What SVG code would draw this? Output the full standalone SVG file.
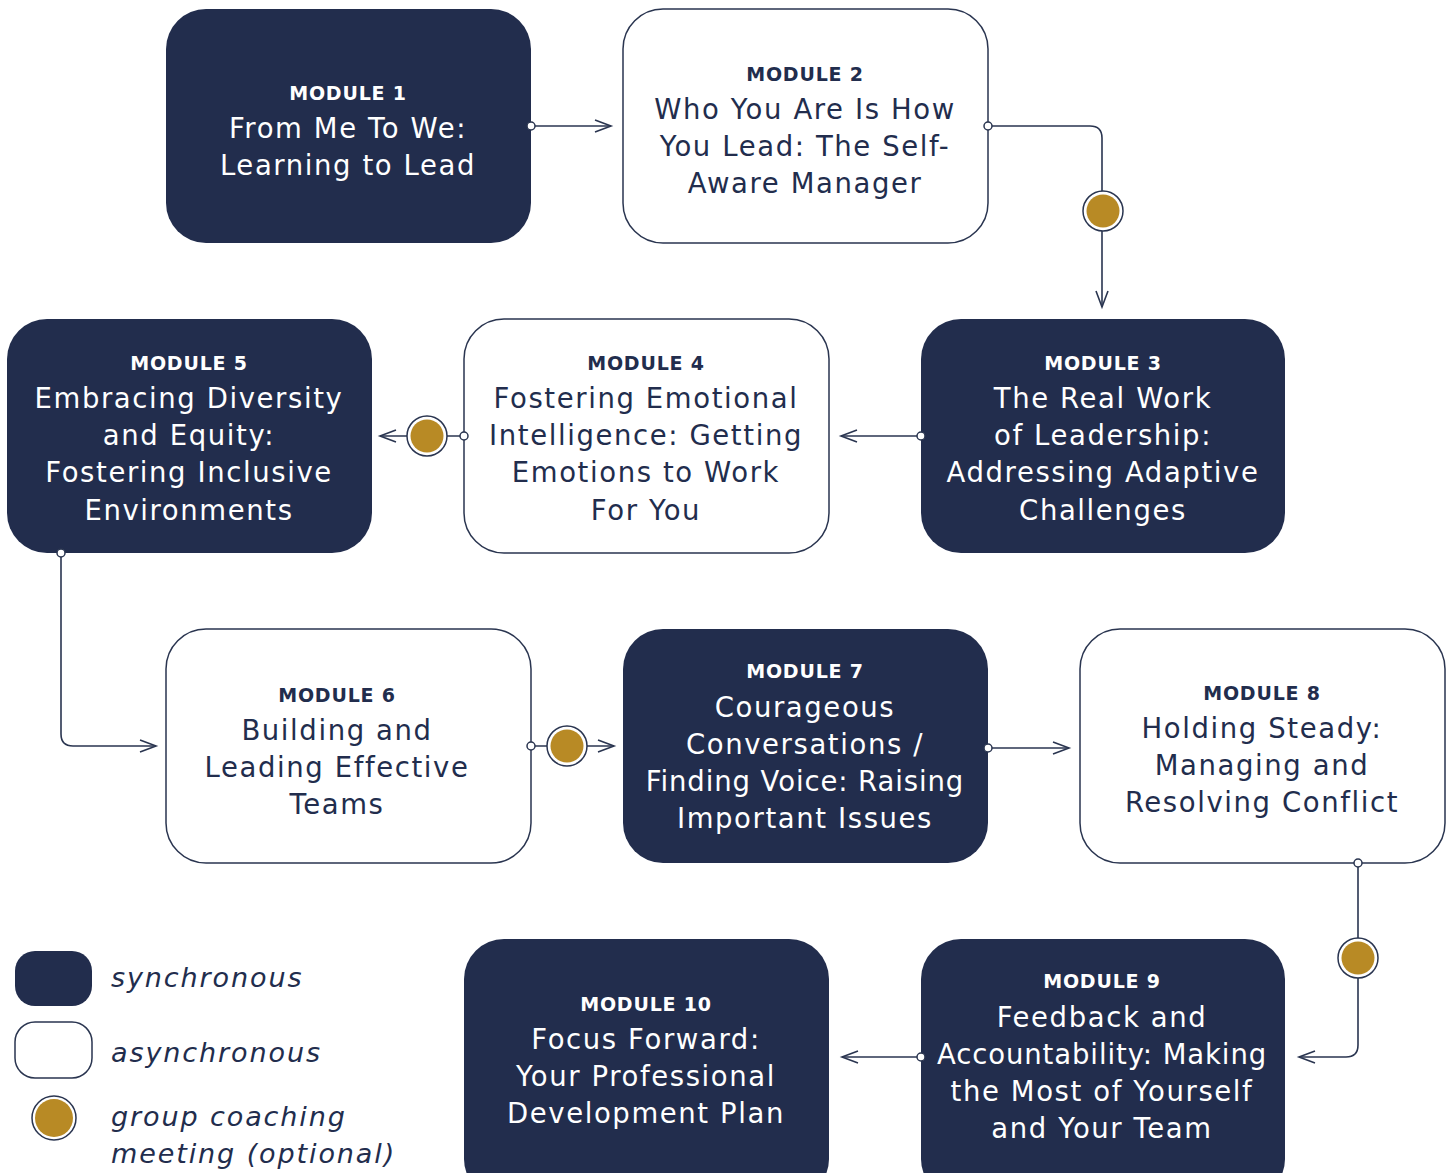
<svg xmlns="http://www.w3.org/2000/svg" width="1454" height="1173" viewBox="0 0 1454 1173">
<style>
.dark{fill:#222d4d;}
.light{fill:#ffffff;stroke:#2a3550;stroke-width:1.5;}
.mod{font-family:"DejaVu Sans","Liberation Sans",sans-serif;font-weight:bold;font-size:19px;letter-spacing:0.8px;text-anchor:middle;}
.ttl{font-family:"DejaVu Sans","Liberation Sans",sans-serif;font-size:27.5px;letter-spacing:1.6px;text-anchor:middle;}
.tight{letter-spacing:0.9px;}
.w{fill:#ffffff;}
.n{fill:#222d4d;}
.conn{fill:none;stroke:#2a3550;stroke-width:1.6;}
.dot{fill:#ffffff;stroke:#2a3550;stroke-width:1.5;}
.ring{fill:#ffffff;stroke:#2a3550;stroke-width:1.5;}
.gold{fill:#b88a25;}
.leg{font-family:"DejaVu Sans","Liberation Sans",sans-serif;font-style:italic;font-size:27px;letter-spacing:1.9px;fill:#222d4d;}
</style>
<defs>
<marker id="arr" markerUnits="userSpaceOnUse" markerWidth="20" markerHeight="16" refX="17" refY="7" orient="auto" viewBox="0 0 20 16">
<path d="M1,1 L17,7 L1,13" fill="none" stroke="#2a3550" stroke-width="1.6"/>
</marker>
</defs>
<rect width="1454" height="1173" fill="#ffffff"/>

<g id="module1">
<rect class="dark" x="166" y="9" width="365" height="234" rx="40"/>
<text class="mod w" x="348" y="100">MODULE 1</text>
<text class="ttl w" x="348" y="138">From Me To We:</text>
<text class="ttl w" x="348" y="175">Learning to Lead</text>
</g>
<g id="module2">
<rect class="light" x="623" y="9" width="365" height="234" rx="40"/>
<text class="mod n" x="805" y="81">MODULE 2</text>
<text class="ttl n" x="805" y="119">Who You Are Is How</text>
<text class="ttl n" x="805" y="156">You Lead: The Self-</text>
<text class="ttl n" x="805" y="193">Aware Manager</text>
</g>
<g id="module3">
<rect class="dark" x="921" y="319" width="364" height="234" rx="40"/>
<text class="mod w" x="1103" y="370">MODULE 3</text>
<text class="ttl w" x="1103" y="408">The Real Work</text>
<text class="ttl w" x="1103" y="445">of Leadership:</text>
<text class="ttl w" x="1103" y="482">Addressing Adaptive</text>
<text class="ttl w" x="1103" y="520">Challenges</text>
</g>
<g id="module4">
<rect class="light" x="464" y="319" width="365" height="234" rx="40"/>
<text class="mod n" x="646" y="370">MODULE 4</text>
<text class="ttl n" x="646" y="408">Fostering Emotional</text>
<text class="ttl n" x="646" y="445">Intelligence: Getting</text>
<text class="ttl n" x="646" y="482">Emotions to Work</text>
<text class="ttl n" x="646" y="520">For You</text>
</g>
<g id="module5">
<rect class="dark" x="7" y="319" width="365" height="234" rx="40"/>
<text class="mod w" x="189" y="370">MODULE 5</text>
<text class="ttl w" x="189" y="408">Embracing Diversity</text>
<text class="ttl w" x="189" y="445">and Equity:</text>
<text class="ttl w" x="189" y="482">Fostering Inclusive</text>
<text class="ttl w" x="189" y="520">Environments</text>
</g>
<g id="module6">
<rect class="light" x="166" y="629" width="365" height="234" rx="40"/>
<text class="mod n" x="337" y="702">MODULE 6</text>
<text class="ttl n" x="337" y="740">Building and</text>
<text class="ttl n" x="337" y="777">Leading Effective</text>
<text class="ttl n" x="337" y="814">Teams</text>
</g>
<g id="module7">
<rect class="dark" x="623" y="629" width="365" height="234" rx="40"/>
<text class="mod w" x="805" y="678">MODULE 7</text>
<text class="ttl w" x="805" y="717">Courageous</text>
<text class="ttl w" x="805" y="754">Conversations /</text>
<text class="ttl w tight" x="805" y="791">Finding Voice: Raising</text>
<text class="ttl w" x="805" y="828">Important Issues</text>
</g>
<g id="module8">
<rect class="light" x="1080" y="629" width="365" height="234" rx="40"/>
<text class="mod n" x="1262" y="700">MODULE 8</text>
<text class="ttl n" x="1262" y="738">Holding Steady:</text>
<text class="ttl n" x="1262" y="775">Managing and</text>
<text class="ttl n" x="1262" y="812">Resolving Conflict</text>
</g>
<g id="module9">
<rect class="dark" x="921" y="939" width="364" height="260" rx="40"/>
<text class="mod w" x="1102" y="988">MODULE 9</text>
<text class="ttl w" x="1102" y="1027">Feedback and</text>
<text class="ttl w tight" x="1102" y="1064">Accountability: Making</text>
<text class="ttl w" x="1102" y="1101">the Most of Yourself</text>
<text class="ttl w" x="1102" y="1138">and Your Team</text>
</g>
<g id="module10">
<rect class="dark" x="464" y="939" width="365" height="260" rx="40"/>
<text class="mod w" x="646" y="1011">MODULE 10</text>
<text class="ttl w" x="646" y="1049">Focus Forward:</text>
<text class="ttl w" x="646" y="1086">Your Professional</text>
<text class="ttl w" x="646" y="1123">Development Plan</text>
</g>

<g id="connectors">
<path class="conn" d="M531,126 H611" marker-end="url(#arr)"/>
<path class="conn" d="M988,126 H1090 Q1102,126 1102,138 V307" marker-end="url(#arr)"/>
<path class="conn" d="M921,436 H841" marker-end="url(#arr)"/>
<path class="conn" d="M464,436 H380" marker-end="url(#arr)"/>
<path class="conn" d="M61,553 V734 Q61,746 73,746 H156" marker-end="url(#arr)"/>
<path class="conn" d="M531,746 H614" marker-end="url(#arr)"/>
<path class="conn" d="M988,748 H1069" marker-end="url(#arr)"/>
<path class="conn" d="M1358,863 V1045 Q1358,1057 1346,1057 H1299" marker-end="url(#arr)"/>
<path class="conn" d="M921,1057 H842" marker-end="url(#arr)"/>
<circle class="dot" cx="531" cy="126" r="4"/>
<circle class="dot" cx="988" cy="126" r="4"/>
<circle class="dot" cx="921" cy="436" r="4"/>
<circle class="dot" cx="464" cy="436" r="4"/>
<circle class="dot" cx="61" cy="553" r="4"/>
<circle class="dot" cx="531" cy="746" r="4"/>
<circle class="dot" cx="988" cy="748" r="4"/>
<circle class="dot" cx="1358" cy="863" r="4"/>
<circle class="dot" cx="921" cy="1057" r="4"/>
<circle class="ring" cx="1103" cy="211" r="20"/><circle class="gold" cx="1103" cy="211" r="16.5"/>
<circle class="ring" cx="427" cy="436" r="20"/><circle class="gold" cx="427" cy="436" r="16.5"/>
<circle class="ring" cx="567" cy="746" r="20"/><circle class="gold" cx="567" cy="746" r="16.5"/>
<circle class="ring" cx="1358" cy="958" r="20"/><circle class="gold" cx="1358" cy="958" r="16.5"/>
</g>

<g id="legend">
<rect class="dark" x="15" y="951" width="77" height="55" rx="20"/>
<text class="leg" x="111" y="987">synchronous</text>
<rect class="light" x="15" y="1022" width="77" height="56" rx="20"/>
<text class="leg" x="111" y="1062">asynchronous</text>
<circle class="ring" cx="54" cy="1118" r="22"/><circle class="gold" cx="54" cy="1118" r="19"/>
<text class="leg" x="111" y="1126">group coaching</text>
<text class="leg" x="111" y="1163">meeting (optional)</text>
</g>
</svg>
